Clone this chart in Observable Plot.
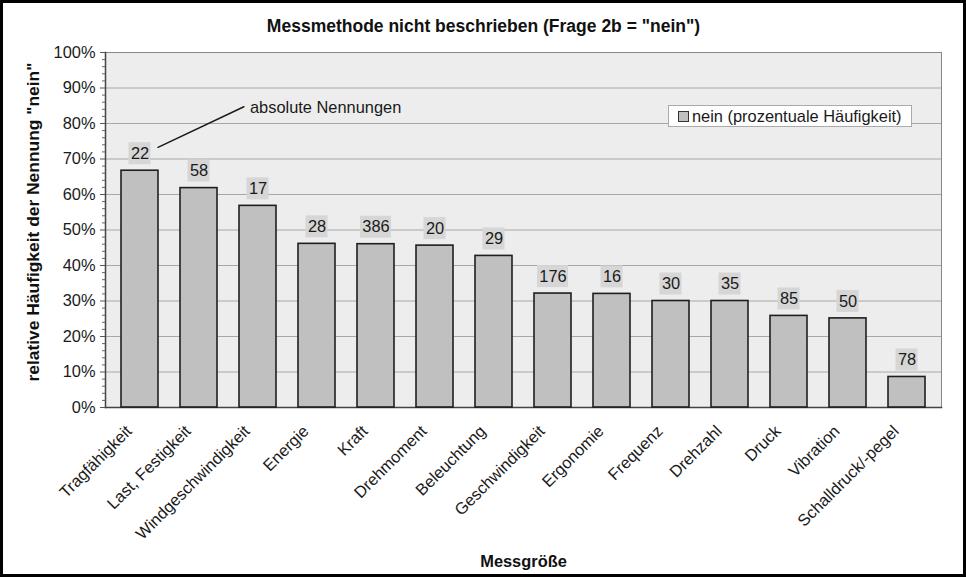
<!DOCTYPE html>
<html><head><meta charset="utf-8">
<script src="https://cdn.jsdelivr.net/npm/d3@7"></script>
<script src="https://cdn.jsdelivr.net/npm/@observablehq/plot@0.6"></script>
<style>
body{margin:0;background:#fff;}
#wrap{position:relative;width:966px;height:577px;font-family:"Liberation Sans",Arial,sans-serif;overflow:hidden;}
#frame{position:absolute;left:0;top:0;width:966px;height:577px;box-sizing:border-box;border:3px solid #000;pointer-events:none;}
#legend{position:absolute;left:668px;top:105px;width:244px;height:22px;box-sizing:border-box;background:#fff;border:1px solid #aaa;font-size:16.4px;display:flex;align-items:center;color:#1a1a1a;white-space:nowrap;}
#legend .sw{display:inline-block;width:9px;height:9px;background:#c0c0c0;border:1px solid #333;margin:0 3px 0 9px;}
</style></head>
<body><div id="wrap"><div id="chart"></div><div id="legend"><span class="sw"></span>nein (prozentuale Häufigkeit)</div><div id="frame"></div></div>
<script>
const categories = ["Tragfähigkeit","Last, Festigkeit","Windgeschwindigkeit","Energie","Kraft","Drehmoment","Beleuchtung","Geschwindigkeit","Ergonomie","Frequenz","Drehzahl","Druck","Vibration","Schalldruck/-pegel"];
const percentNein = [66.7, 61.8, 56.8, 46.1, 46.0, 45.6, 42.7, 32.1, 32.0, 30.0, 30.0, 25.8, 25.1, 8.6];
const absoluteCounts = [22, 58, 17, 28, 386, 20, 29, 176, 16, 30, 35, 85, 50, 78];
const yTicks = [0, 10, 20, 30, 40, 50, 60, 70, 80, 90, 100];
const yMinorTicks = [2,4,6,8,12,14,16,18,22,24,26,28,32,34,36,38,42,44,46,48,52,54,56,58,62,64,66,68,72,74,76,78,82,84,86,88,92,94,96,98];
const titleText = 'Messmethode nicht beschrieben (Frage 2b = "nein")';
const yTitle = 'relative Häufigkeit der Nennung "nein"';
const xTitle = "Messgröße";
const annotationText = "absolute Nennungen";

const data = categories.map((c, i) => ({cat: c, pct: percentNein[i], n: absoluteCounts[i]}));
const font = "Liberation Sans, Arial, sans-serif";

const chart = Plot.plot({
  width: 966, height: 577,
  marginLeft: 105, marginRight: 25, marginTop: 52, marginBottom: 170,
  style: {fontFamily: font, fontSize: "16.4px", color: "#1a1a1a", background: "transparent", overflow: "visible"},
  x: {domain: categories, paddingInner: 0.38, paddingOuter: 0.19, label: null},
  y: {domain: [0, 100], label: null},
  marks: [
    Plot.frame({fill: "#ededed"}),
    Plot.gridY(yTicks, {stroke: "#a8a8a8", strokeOpacity: 1}),
    Plot.frame({stroke: "#888"}),
    Plot.frame({anchor: "left", stroke: "#444", strokeWidth: 1.5}),
    Plot.frame({anchor: "bottom", stroke: "#444", strokeWidth: 1.5}),
    Plot.axisY(yMinorTicks, {tickSize: 3, tickFormat: () => "", stroke: "#666"}),
    Plot.axisY(yTicks, {tickSize: 5, tickPadding: 5, tickFormat: d => d + "%", fontSize: 16.4, stroke: "#555"}),
    Plot.axisX({tickSize: 0, tickRotate: -45, tickPadding: 6, dx: -11, dy: 15, fontSize: 16.4}),
    Plot.barY(data, {x: "cat", y: "pct", fill: "#c0c0c0", stroke: "#1e1e1e", strokeWidth: 1.6}),
    Plot.barY(data.filter(d => String(d.n).length < 3), {x: "cat", y1: "pct", y2: "pct", insetTop: -28, insetBottom: 6, insetLeft: 7.5, insetRight: 7.5, fill: "#d6d6d6"}),
    Plot.barY(data.filter(d => String(d.n).length >= 3), {x: "cat", y1: "pct", y2: "pct", insetTop: -28, insetBottom: 6, insetLeft: 3, insetRight: 3, fill: "#d6d6d6"}),
    Plot.text(data, {x: "cat", y: "pct", text: d => String(d.n), dy: -17, lineAnchor: "middle", fontSize: 16.4, fill: "#1a1a1a"}),
    Plot.arrow([annotationText], {x1: () => categories[0], y1: () => 70.9, x2: () => categories[2], y2: () => 86.6, insetStart: 19.9, insetEnd: 15.6, headLength: 0, stroke: "#1a1a1a", strokeWidth: 1.5}),
    Plot.text([annotationText], {x: () => categories[2], y: () => 84.5, text: d => d, textAnchor: "start", dx: -8, lineAnchor: "middle", fontSize: 16.4, fill: "#1a1a1a"}),
    Plot.text([titleText], {frameAnchor: "top", dx: -40, dy: -26, text: d => d, lineAnchor: "middle", fontWeight: "bold", fontSize: 17.5, fill: "#111"}),
    Plot.text([xTitle], {frameAnchor: "bottom", dy: 154, text: d => d, lineAnchor: "middle", fontWeight: "bold", fontSize: 16.4, fill: "#111"}),
    Plot.text([yTitle], {frameAnchor: "left", dx: -72, dy: -8, rotate: -90, textAnchor: "middle", text: d => d, lineAnchor: "middle", fontWeight: "bold", fontSize: 17.4, fill: "#111"})
  ]
});
document.getElementById("chart").appendChild(chart);
</script>
</body></html>
